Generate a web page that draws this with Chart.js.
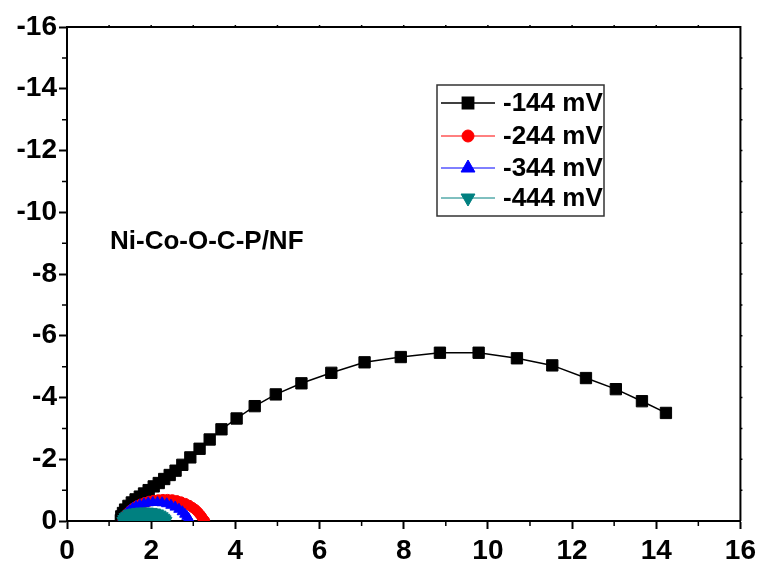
<!DOCTYPE html>
<html>
<head>
<meta charset="utf-8">
<script src="https://cdn.jsdelivr.net/npm/chart.js@4.4.0/dist/chart.umd.min.js"></script>
<style>
html, body { margin: 0; padding: 0; background: #fff; }
#wrap { width: 761px; height: 564px; }
</style>
</head>
<body>
<div id="wrap"><canvas id="nyquist" width="761" height="564"></canvas></div>
<script>
// series labels
var labels = ['-144 mV', '-244 mV', '-344 mV', '-444 mV'];
var colors = ['#000000', '#ff0000', '#0000ff', '#008080'];

// Z' (x) and -Z'' (y) values
var zre144 = [1.28,1.29,1.33,1.38,1.46,1.54,1.63,1.73,1.83,1.94,2.06,2.18,2.31,2.44,2.58,2.74,2.93,3.15,3.39,3.67,4.03,4.46,4.96,5.57,6.28,7.07,7.93,8.86,9.78,10.69,11.53,12.33,13.04,13.66,14.23];
var zim144 = [0.03,0.15,0.26,0.37,0.49,0.60,0.70,0.79,0.89,1.00,1.12,1.23,1.36,1.49,1.63,1.82,2.06,2.34,2.64,2.97,3.32,3.72,4.10,4.46,4.80,5.14,5.31,5.45,5.45,5.27,5.04,4.63,4.27,3.88,3.50];

var zre244 = [1.33,1.36,1.40,1.45,1.51,1.58,1.66,1.75,1.85,1.95,2.06,2.17,2.28,2.39,2.50,2.61,2.71,2.81,2.90,2.98,3.05,3.11,3.16,3.20,3.23,3.25,3.27];
var zim244 = [0.03,0.11,0.19,0.27,0.35,0.42,0.49,0.55,0.60,0.64,0.67,0.69,0.70,0.70,0.69,0.66,0.62,0.57,0.51,0.44,0.37,0.29,0.21,0.14,0.07,0.02,0.01];

var zre344 = [1.31,1.34,1.38,1.43,1.49,1.56,1.64,1.73,1.83,1.93,2.04,2.15,2.26,2.37,2.47,2.57,2.66,2.74,2.80,2.85,2.89,2.91];
var zim344 = [0.03,0.11,0.19,0.27,0.34,0.41,0.47,0.52,0.56,0.59,0.60,0.60,0.59,0.56,0.51,0.45,0.38,0.30,0.22,0.15,0.08,0.02];

var zre444 = [1.31,1.33,1.36,1.40,1.45,1.51,1.58,1.66,1.75,1.84,1.93,2.02,2.10,2.17,2.23,2.28,2.32,2.35,2.37];
var zim444 = [0.02,0.08,0.14,0.19,0.24,0.27,0.29,0.31,0.32,0.32,0.32,0.31,0.29,0.26,0.22,0.17,0.12,0.07,0.02];

var axisMin = 0, axisMax = 16, majorStep = 2;
var sampleName = 'Ni-Co-O-C-P/NF';

function pts(xs, ys) {
    return xs.map(function (x, i) { return { x: x, y: ys[i] }; });
}

var FONT = '"Liberation Sans", Arial, sans-serif';

var styles = [
    { pointStyle: 'rect', radius: 8, rotation: 0, lw: 1.5, legendR: 8 },
    { pointStyle: 'circle', radius: 5, rotation: 0, lw: 1, legendR: 6 },
    { pointStyle: 'triangle', radius: 6, rotation: 0, lw: 1, legendR: 8 },
    { pointStyle: 'triangle', radius: 6, rotation: 180, lw: 1, legendR: 8 }
];

// frame, minor ticks, annotation and legend
var extras = {
    id: 'extras',
    afterDraw: function (chart) {
        var ctx = chart.ctx, a = chart.chartArea;
        var xs = chart.scales.x, ys = chart.scales.y;
        ctx.save();
        ctx.strokeStyle = '#000';
        ctx.lineWidth = 2;
        ctx.beginPath();
        ctx.moveTo(a.left, a.top);
        ctx.lineTo(a.right, a.top);
        ctx.lineTo(a.right, a.bottom);
        ctx.stroke();

        ctx.lineWidth = 1.5;
        ctx.beginPath();
        for (var v = axisMin + 1; v < axisMax; v += 2) {
            var px = xs.getPixelForValue(v), py = ys.getPixelForValue(v);
            ctx.moveTo(px, a.bottom); ctx.lineTo(px, a.bottom + 5);
            ctx.moveTo(a.left, py); ctx.lineTo(a.left - 5, py);
        }
        for (v = axisMin + 1; v < axisMax; v++) {
            var qx = xs.getPixelForValue(v), qy = ys.getPixelForValue(v);
            ctx.moveTo(qx, a.top); ctx.lineTo(qx, a.top - 2);
            ctx.moveTo(a.right, qy); ctx.lineTo(a.right + 2, qy);
        }
        ctx.stroke();

        // sample name
        ctx.fillStyle = '#000';
        ctx.font = 'bold 26px ' + FONT;
        ctx.textBaseline = 'middle';
        ctx.textAlign = 'left';
        ctx.fillText(sampleName, a.left + 43, 242);

        // legend
        var bx = 437, by = 85, bw = 167, bh = 131;
        ctx.fillStyle = '#fff';
        ctx.fillRect(bx, by, bw, bh);
        ctx.strokeStyle = '#333';
        ctx.lineWidth = 1.5;
        ctx.strokeRect(bx, by, bw, bh);
        var rowY = [103, 136, 168, 198];
        for (var i = 0; i < labels.length; i++) {
            var y = rowY[i];
            ctx.strokeStyle = colors[i];
            ctx.lineWidth = styles[i].lw;
            ctx.beginPath();
            ctx.moveTo(441, y); ctx.lineTo(495, y);
            ctx.stroke();
            ctx.fillStyle = colors[i];
            Chart.helpers.drawPoint(ctx, {
                pointStyle: styles[i].pointStyle,
                radius: styles[i].legendR,
                rotation: styles[i].rotation,
                borderWidth: 1
            }, 468, y);
            ctx.fillStyle = '#000';
            ctx.font = 'bold 26px ' + FONT;
            ctx.fillText(labels[i], 503, y + 1);
        }
        ctx.restore();
    }
};

var series = [pts(zre144, zim144), pts(zre244, zim244), pts(zre344, zim344), pts(zre444, zim444)];

var datasets = series.map(function (d, i) {
    return {
        label: labels[i],
        data: d,
        showLine: true,
        borderColor: colors[i],
        backgroundColor: colors[i],
        borderWidth: styles[i].lw,
        pointStyle: styles[i].pointStyle,
        pointRadius: styles[i].radius,
        pointRotation: styles[i].rotation,
        pointBorderWidth: 1,
        pointBorderColor: colors[i],
        pointBackgroundColor: colors[i],
        fill: i === 3 ? 'origin' : false,
        tension: 0,
        order: 4 - i
    };
});

function axisCommon() {
    return {
        type: 'linear',
        min: axisMin,
        max: axisMax,
        border: { color: '#000', width: 2 },
        grid: { drawOnChartArea: false, drawTicks: true, tickLength: 8, tickWidth: 2, tickColor: '#000', color: '#000' },
        ticks: { stepSize: majorStep, color: '#000', font: { family: FONT, size: 28, weight: 'bold' } }
    };
}

var xAxis = axisCommon();
xAxis.position = 'bottom';
xAxis.ticks.padding = 5;
xAxis.ticks.maxRotation = 0;
xAxis.afterFit = function (s) { s.height = 43; };

var yAxis = axisCommon();
yAxis.position = 'left';
yAxis.ticks.padding = 2;
yAxis.ticks.callback = function (v) { return v === 0 ? '0' : '-' + v; };
yAxis.afterFit = function (s) { s.width = 67; };

var ctx = document.getElementById('nyquist').getContext('2d');
var nyquistChart = new Chart(ctx, {
    type: 'scatter',
    data: { datasets: datasets },
    options: {
        responsive: false,
        animation: false,
        layout: { padding: { top: 27, right: 20, left: 0, bottom: 0 } },
        plugins: { legend: { display: false }, tooltip: { enabled: false } },
        scales: { x: xAxis, y: yAxis }
    },
    plugins: [extras]
});
</script>
</body>
</html>
